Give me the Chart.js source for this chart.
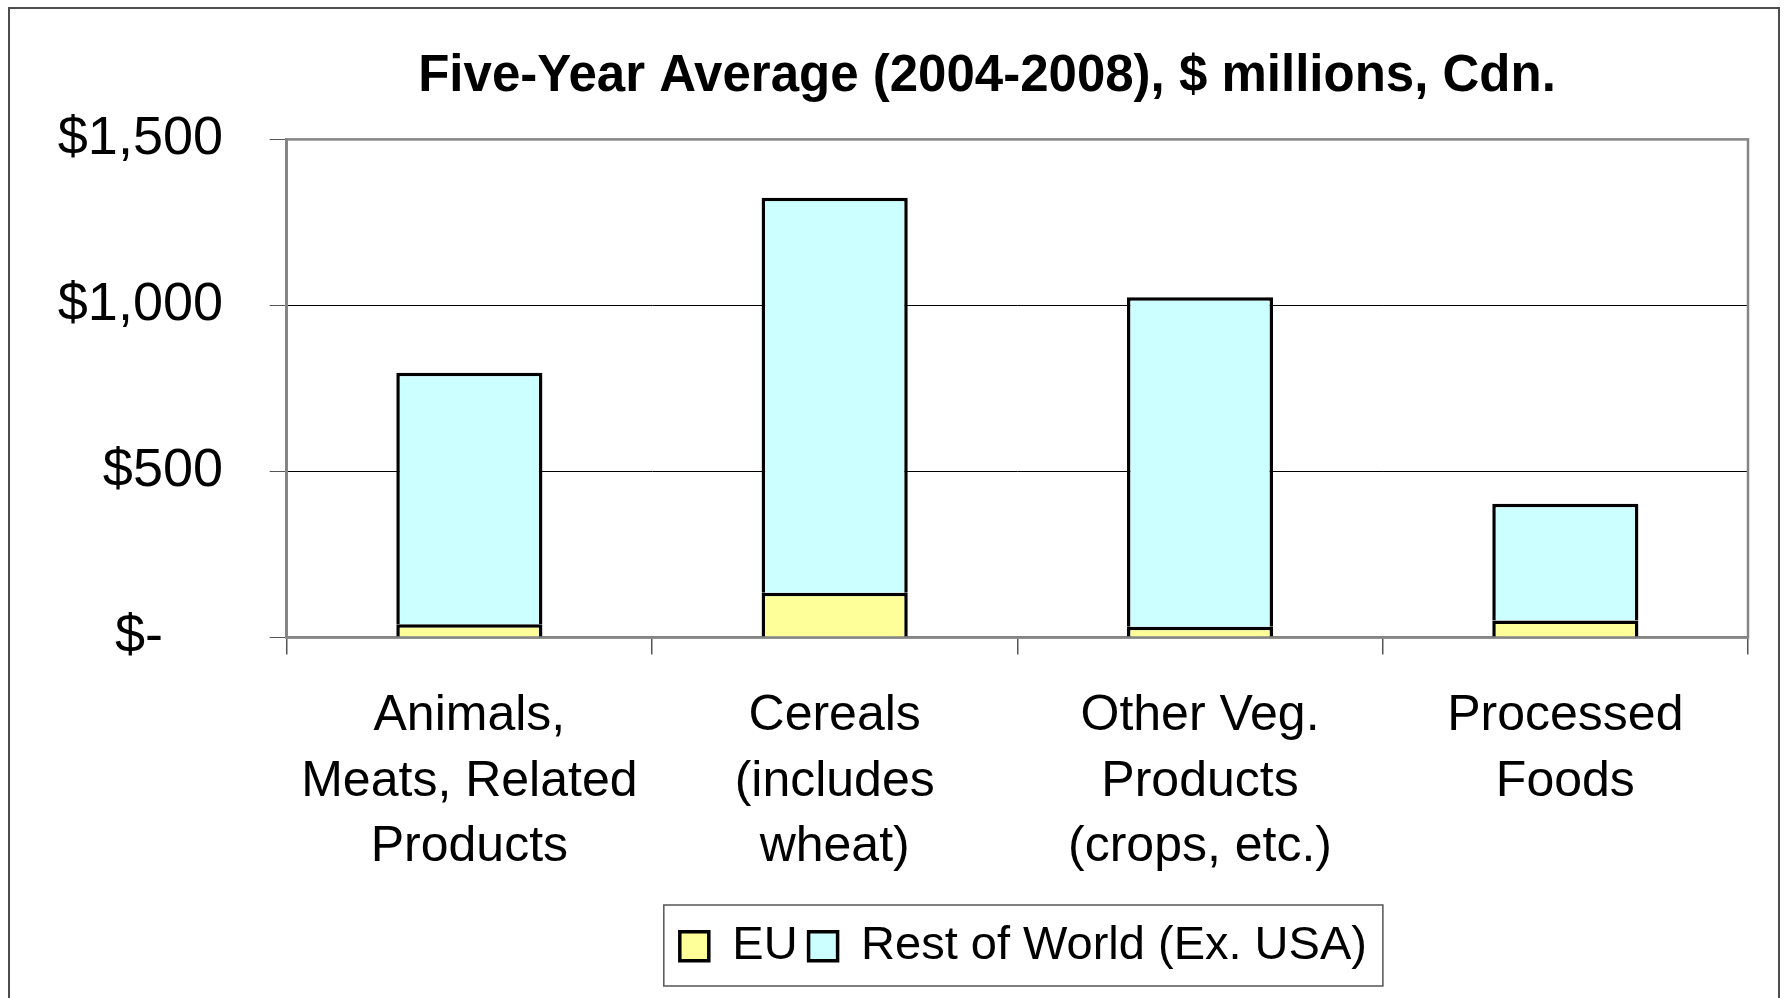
<!DOCTYPE html>
<html>
<head>
<meta charset="utf-8">
<script src="https://cdn.jsdelivr.net/npm/chart.js@4.4.1/dist/chart.umd.min.js"></script>
<style>
html, body { margin: 0; padding: 0; background: #ffffff; overflow: hidden; }
canvas { display: block; }
</style>
</head>
<body>
<canvas id="c" width="1785" height="998"></canvas>
<script>
// ---- data ----
const categories = [
  ["Animals,", "Meats, Related", "Products"],
  ["Cereals", "(includes", "wheat)"],
  ["Other Veg.", "Products", "(crops, etc.)"],
  ["Processed", "Foods"]
];
const seriesNames = ["EU", "Rest of World (Ex. USA)"];
const euValues = [40, 135, 32, 51];
const restOfWorldValues = [757, 1189, 993, 352];
const yTickValues = [0, 500, 1000, 1500];
const yTickLabels = ["$-    ", "$500", "$1,000", "$1,500"];
const titleText = "Five-Year Average (2004-2008), $ millions, Cdn.";

const FONT = "'Liberation Sans', Arial, Helvetica, sans-serif";
Chart.defaults.font.family = FONT;
Chart.defaults.color = "#000";

const framePlugin = {
  id: "frames",
  afterLayout(chart) {
    const t = chart.titleBlock;
    if (t) { t.left = 226; t.right = 1748; }
    const lg = chart.legend;
    if (lg) { lg.left += 6; lg.right += 6; }
  },
  beforeDraw(chart) {
    const ctx = chart.ctx;
    ctx.save();
    ctx.fillStyle = "#ffffff";
    ctx.fillRect(0, 0, chart.width, chart.height);
    ctx.strokeStyle = "#4d4d4d";
    ctx.lineWidth = 2;
    ctx.strokeRect(9, 8, 1770, 1100);
    ctx.restore();
  },
  afterDatasetsDraw(chart) {
    const { ctx, chartArea: a } = chart;
    ctx.save();
    ctx.strokeStyle = "#858585";
    ctx.lineWidth = 2.5;
    ctx.strokeRect(a.left, a.top, a.right - a.left, a.bottom - a.top);
    ctx.restore();
  },
  afterDraw(chart) {
    const lg = chart.legend;
    if (!lg || !lg.lineWidths) return;
    const ctx = chart.ctx;
    const p = lg.options.labels.padding;
    const start = (lg.left + p + lg.right - lg.lineWidths[0]) / 2;
    const end = start + lg.lineWidths[0] - p;
    const top = lg.top + p;
    ctx.save();
    ctx.strokeStyle = "#555";
    ctx.lineWidth = 1.5;
    ctx.strokeRect(start - 16, top - 17.7, end - start + 32, 81);
    ctx.restore();
  }
};

new Chart(document.getElementById("c"), {
  type: "bar",
  data: {
    labels: categories,
    datasets: [
      {
        label: seriesNames[0],
        data: euValues,
        backgroundColor: "#FFFF99",
        borderColor: "#000000",
        borderWidth: 3.5,
        borderSkipped: "bottom"
      },
      {
        label: seriesNames[1],
        data: restOfWorldValues,
        backgroundColor: "#CCFFFF",
        borderColor: "#000000",
        borderWidth: 3.5,
        borderSkipped: "bottom"
      }
    ]
  },
  options: {
    responsive: false,
    animation: false,
    events: [],
    barPercentage: 0.4,
    categoryPercentage: 1.0,
    layout: { padding: { left: 0, right: 37, top: 0, bottom: 18.3 } },
    plugins: {
      title: {
        display: true,
        text: titleText,
        color: "#000",
        font: { family: FONT, size: 51, weight: "bold", lineHeight: 1.2 },
        padding: { top: 46, bottom: 32.2 }
      },
      legend: {
        display: true,
        position: "bottom",
        fullSize: false,
        labels: {
          boxWidth: 29,
          boxHeight: 29,
          padding: 11,
          color: "#000",
          font: { family: FONT, size: 47 }
        }
      },
      tooltip: { enabled: false }
    },
    scales: {
      x: {
        stacked: true,
        offset: true,
        afterFit(scale) { scale.height = 274.2; },
        grid: {
          offset: true,
          drawOnChartArea: false,
          drawTicks: true,
          tickLength: 17,
          color: "#555",
          lineWidth: 1.5
        },
        border: { display: true, color: "#858585", width: 2.5 },
        ticks: {
          color: "#000",
          font: { family: FONT, size: 50, lineHeight: 1.31 },
          padding: 29,
          maxRotation: 0,
          minRotation: 0,
          autoSkip: false
        }
      },
      y: {
        stacked: true,
        min: 0,
        max: 1500,
        afterFit(scale) { scale.width = 286.7; },
        afterBuildTicks(scale) {
          scale.ticks = yTickValues.map(v => ({ value: v }));
        },
        grid: {
          drawTicks: true,
          tickLength: 17,
          lineWidth: 1,
          color: (c) => (c.tick && (c.tick.value === 500 || c.tick.value === 1000)) ? "#000" : "#858585",
          tickColor: "#555"
        },
        border: { display: true, color: "#858585", width: 2.5 },
        ticks: {
          color: "#000",
          font: { family: FONT, size: 54 },
          padding: 46.7,
          callback: (value) => {
            const i = yTickValues.indexOf(value);
            return i >= 0 ? yTickLabels[i] : "";
          }
        }
      }
    }
  },
  plugins: [framePlugin]
});
</script>
</body>
</html>
